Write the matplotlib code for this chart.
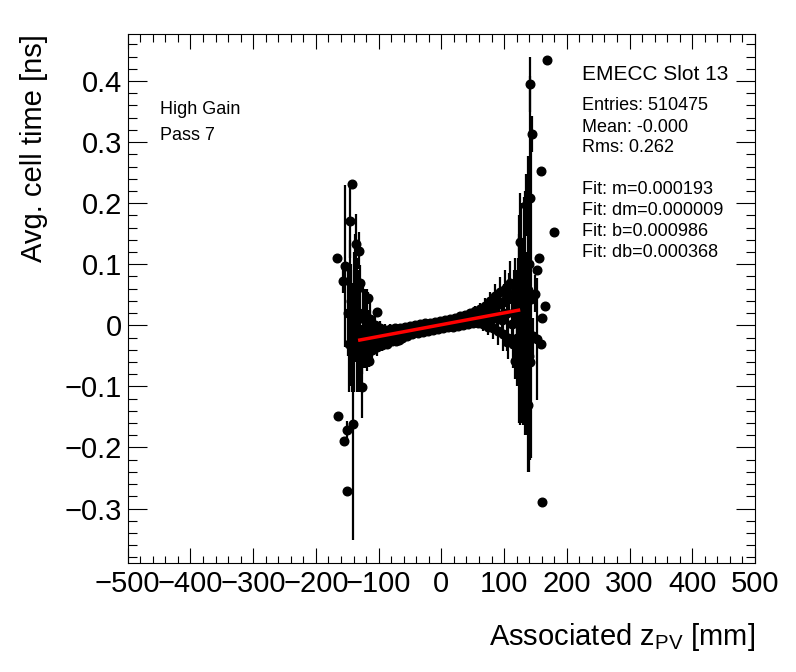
import numpy as np
import matplotlib.pyplot as plt
from matplotlib.ticker import MultipleLocator

plt.rcParams['font.family'] = ['Liberation Sans', 'DejaVu Sans']

# profile points in the dense central band: z [mm], mean time [ns], error
z_band = [-124, -120, -116, -112, -108, -104, -100, -96, -92, -88, -84, -80,
          -76, -72, -68, -64, -60, -56, -52, -48, -44, -40, -36, -32, -28,
          -24, -20, -16, -12, -8, -4, 0, 4, 8, 12, 16, 20, 24, 28, 32, 36,
          40, 44, 48, 52, 56, 60, 64, 68, 72, 76, 80, 84, 88, 92, 96, 100,
          104, 108, 112, 116, 120]
t_band = [-0.010, -0.030, -0.005, -0.025, -0.012, -0.028, -0.015, -0.024,
          -0.018, -0.020, -0.014, -0.019, -0.016, -0.026, -0.024, -0.012,
          -0.010, -0.014, -0.008, -0.011, -0.006, -0.009, -0.004, -0.006,
          -0.002, -0.005, -0.001, -0.003, 0.001, -0.001, 0.003, 0.000,
          0.004, 0.002, 0.006, 0.003, 0.007, 0.005, 0.010, 0.007, 0.012,
          0.009, 0.014, 0.011, 0.017, 0.013, 0.019, 0.015, 0.021, 0.014,
          0.024, 0.010, 0.030, 0.018, 0.035, 0.008, 0.040, 0.020, 0.050,
          0.002, 0.045, 0.030]
e_band = [0.045, 0.040, 0.030, 0.028, 0.022, 0.018, 0.014, 0.012, 0.010,
          0.008, 0.008, 0.007, 0.007, 0.006, 0.006, 0.006, 0.005, 0.005,
          0.005, 0.005, 0.005, 0.005, 0.005, 0.005, 0.005, 0.005, 0.005,
          0.005, 0.005, 0.005, 0.005, 0.005, 0.005, 0.005, 0.005, 0.005,
          0.005, 0.005, 0.006, 0.006, 0.006, 0.006, 0.007, 0.007, 0.008,
          0.008, 0.009, 0.010, 0.011, 0.012, 0.014, 0.015, 0.017, 0.019,
          0.022, 0.024, 0.027, 0.030, 0.035, 0.040, 0.045, 0.060]

# the bins in between (offset by 2 mm)
z_band2 = [-122, -118, -114, -110, -106, -102, -98, -94, -90, -86, -82, -78,
           -74, -70, -66, -62, -58, -54, -50, -46, -42, -38, -34, -30, -26,
           -22, -18, -14, -10, -6, -2, 2, 6, 10, 14, 18, 22, 26, 30, 34, 38,
           42, 46, 50, 54, 58, 62, 66, 70, 74, 78, 82, 86, 90, 94, 98, 102,
           106, 110, 114, 118]
t_band2 = [0.015, -0.045, 0.010, -0.040, 0.000, -0.035, -0.005, -0.032,
           -0.008, -0.030, -0.006, -0.025, -0.005, -0.022, -0.004, -0.020,
           -0.003, -0.017, -0.001, -0.015, 0.000, -0.013, 0.002, -0.011,
           0.003, -0.009, 0.004, -0.008, 0.006, -0.006, 0.007, -0.004,
           0.009, -0.003, 0.011, -0.002, 0.012, -0.001, 0.015, 0.001,
           0.017, 0.002, 0.020, 0.003, 0.023, 0.004, 0.027, 0.002, 0.032,
           -0.002, 0.040, -0.005, 0.048, -0.010, 0.055, -0.015, 0.060,
           -0.020, 0.070, -0.030, 0.060]
e_band2 = [0.045, 0.030, 0.030, 0.020, 0.018, 0.015, 0.012, 0.010, 0.010,
           0.008, 0.008, 0.007, 0.007, 0.006, 0.006, 0.006, 0.005, 0.005,
           0.005, 0.005, 0.005, 0.005, 0.005, 0.005, 0.005, 0.005, 0.005,
           0.005, 0.005, 0.005, 0.005, 0.005, 0.005, 0.005, 0.005, 0.005,
           0.005, 0.006, 0.006, 0.006, 0.006, 0.007, 0.007, 0.008, 0.008,
           0.009, 0.010, 0.011, 0.012, 0.014, 0.015, 0.017, 0.019, 0.022,
           0.024, 0.027, 0.030, 0.035, 0.035, 0.040, 0.050]

# sparse bins at the negative-z edge
z_left = [-166, -165, -156, -155, -153, -150, -150, -146, -145, -143, -141,
          -140, -138, -137, -136, -134, -133, -132, -131, -130, -129, -128,
          -126, -119, -117, -116, -102,
          -148, -147, -144, -142, -139, -135, -127, -125, -123, -121, -115,
          -113, -111, -109, -107]
t_left = [0.111, -0.149, 0.073, -0.190, 0.097, -0.171, -0.272, 0.171, 0.020,
          0.232, -0.161, -0.010, 0.030, 0.050, 0.133, -0.040, 0.010, 0.122,
          -0.030, -0.020, 0.069, -0.050, -0.101, 0.000, 0.045, -0.058, 0.022,
          0.020, -0.030, 0.040, -0.020, 0.050, 0.060, -0.040, 0.020, -0.035,
          0.015, -0.030, 0.005, -0.035, 0.000, -0.030]
e_left = [0.0, 0.0, 0.02, 0.0, 0.133, 0.015, 0.0, 0.06, 0.12, 0.0, 0.19,
          0.10, 0.09, 0.10, 0.05, 0.07, 0.08, 0.03, 0.08, 0.06, 0.03, 0.05,
          0.05, 0.06, 0.01, 0.01, 0.006,
          0.07, 0.08, 0.06, 0.09, 0.07, 0.05, 0.04, 0.05, 0.035, 0.04, 0.025,
          0.02, 0.015, 0.015, 0.012]

# sparse bins at the positive-z edge
z_right = [104.6, 118, 122, 124, 126, 126, 128, 130, 132, 135, 137.5, 138,
           139, 140, 140.6, 140.6, 141.7, 143.5, 145, 146, 149.7, 152, 152,
           155, 159, 159, 160, 160, 165.6, 168, 180,
           121, 123, 125, 127, 129, 131, 133, 134, 136]
t_right = [-0.027, -0.058, 0.050, 0.010, 0.136, 0.026, 0.030, -0.063, -0.020,
           0.197, -0.130, 0.058, 0.100, -0.050, 0.208, -0.060, 0.395, 0.043,
           0.313, -0.018, 0.052, 0.091, -0.022, 0.111, 0.252, -0.030, 0.012,
           -0.290, 0.031, 0.434, 0.152,
           -0.020, 0.080, -0.040, 0.060, -0.010, 0.090, -0.040, 0.020, -0.030]
e_right = [0.015, 0.03, 0.06, 0.17, 0.04, 0.19, 0.10, 0.10, 0.12, 0.05, 0.11,
           0.22, 0.08, 0.19, 0.20, 0.16, 0.045, 0.26, 0.03, 0.03, 0.03, 0.0,
           0.10, 0.0, 0.0, 0.0, 0.0, 0.0, 0.0, 0.0, 0.0,
           0.08, 0.07, 0.12, 0.14, 0.15, 0.12, 0.10, 0.20, 0.15]

fit_m = 0.000193
fit_b = 0.000986
fit_range = [-130, 123]

stats = ["Entries: 510475", "Mean: -0.000", "Rms: 0.262"]
fit_txt = ["Fit: m=0.000193", "Fit: dm=0.000009", "Fit: b=0.000986",
           "Fit: db=0.000368"]

z = np.array(z_band + z_band2 + z_left + z_right)
t = np.array(t_band + t_band2 + t_left + t_right)
e = np.array(e_band + e_band2 + e_left + e_right)

fig = plt.figure(figsize=(7.96, 6.72), dpi=100)
ax = fig.add_axes([0.1604, 0.1615, 0.7881, 0.7879])

ax.errorbar(z, t, yerr=e, fmt='o', color='black', ms=6.2, elinewidth=1.6,
            capsize=0, zorder=2)
xf = np.array(fit_range)
ax.plot(xf, fit_m * xf + fit_b, color='red', lw=2.5, zorder=3)

ax.set_xlim(-500, 500)
ax.set_ylim(-0.39, 0.477)
ax.xaxis.set_major_locator(MultipleLocator(100))
ax.xaxis.set_minor_locator(MultipleLocator(20))
ax.yaxis.set_minor_locator(MultipleLocator(0.02))
ax.set_yticks(np.arange(-0.3, 0.45, 0.1))
ax.set_yticklabels(['\u22120.3', '\u22120.2', '\u22120.1', '0', '0.1', '0.2',
                    '0.3', '0.4'])

ax.tick_params(which='both', direction='in', top=True, right=True, width=0.8)
ax.tick_params(axis='x', which='major', length=10.8, labelsize=21, pad=5)
ax.tick_params(axis='x', which='minor', length=5.4)
ax.tick_params(axis='y', which='major', length=13.7, labelsize=21, pad=4)
ax.tick_params(axis='y', which='minor', length=6.8)
for s in ax.spines.values():
    s.set_linewidth(0.8)

ax.set_xlabel(r'Associated z$_{\mathregular{PV}}$ [mm]', fontsize=21,
              loc='right', labelpad=16)
ax.set_ylabel('Avg. cell time [ns]', fontsize=21, loc='top', labelpad=12)

fig.text(160 / 796, 1 - 109 / 672, 'High Gain', fontsize=13, va='center')
fig.text(160 / 796, 1 - 135 / 672, 'Pass 7', fontsize=13, va='center')

fig.text(582 / 796, 1 - 74 / 672, 'EMECC Slot 13', fontsize=15, va='center')
for i, s in enumerate(stats):
    fig.text(582 / 796, 1 - (106 + 21 * i) / 672, s, fontsize=13, va='center')
for i, s in enumerate(fit_txt):
    fig.text(582 / 796, 1 - (190 + 20.7 * i) / 672, s, fontsize=13, va='center')

fig.savefig('out.png', dpi=100)
